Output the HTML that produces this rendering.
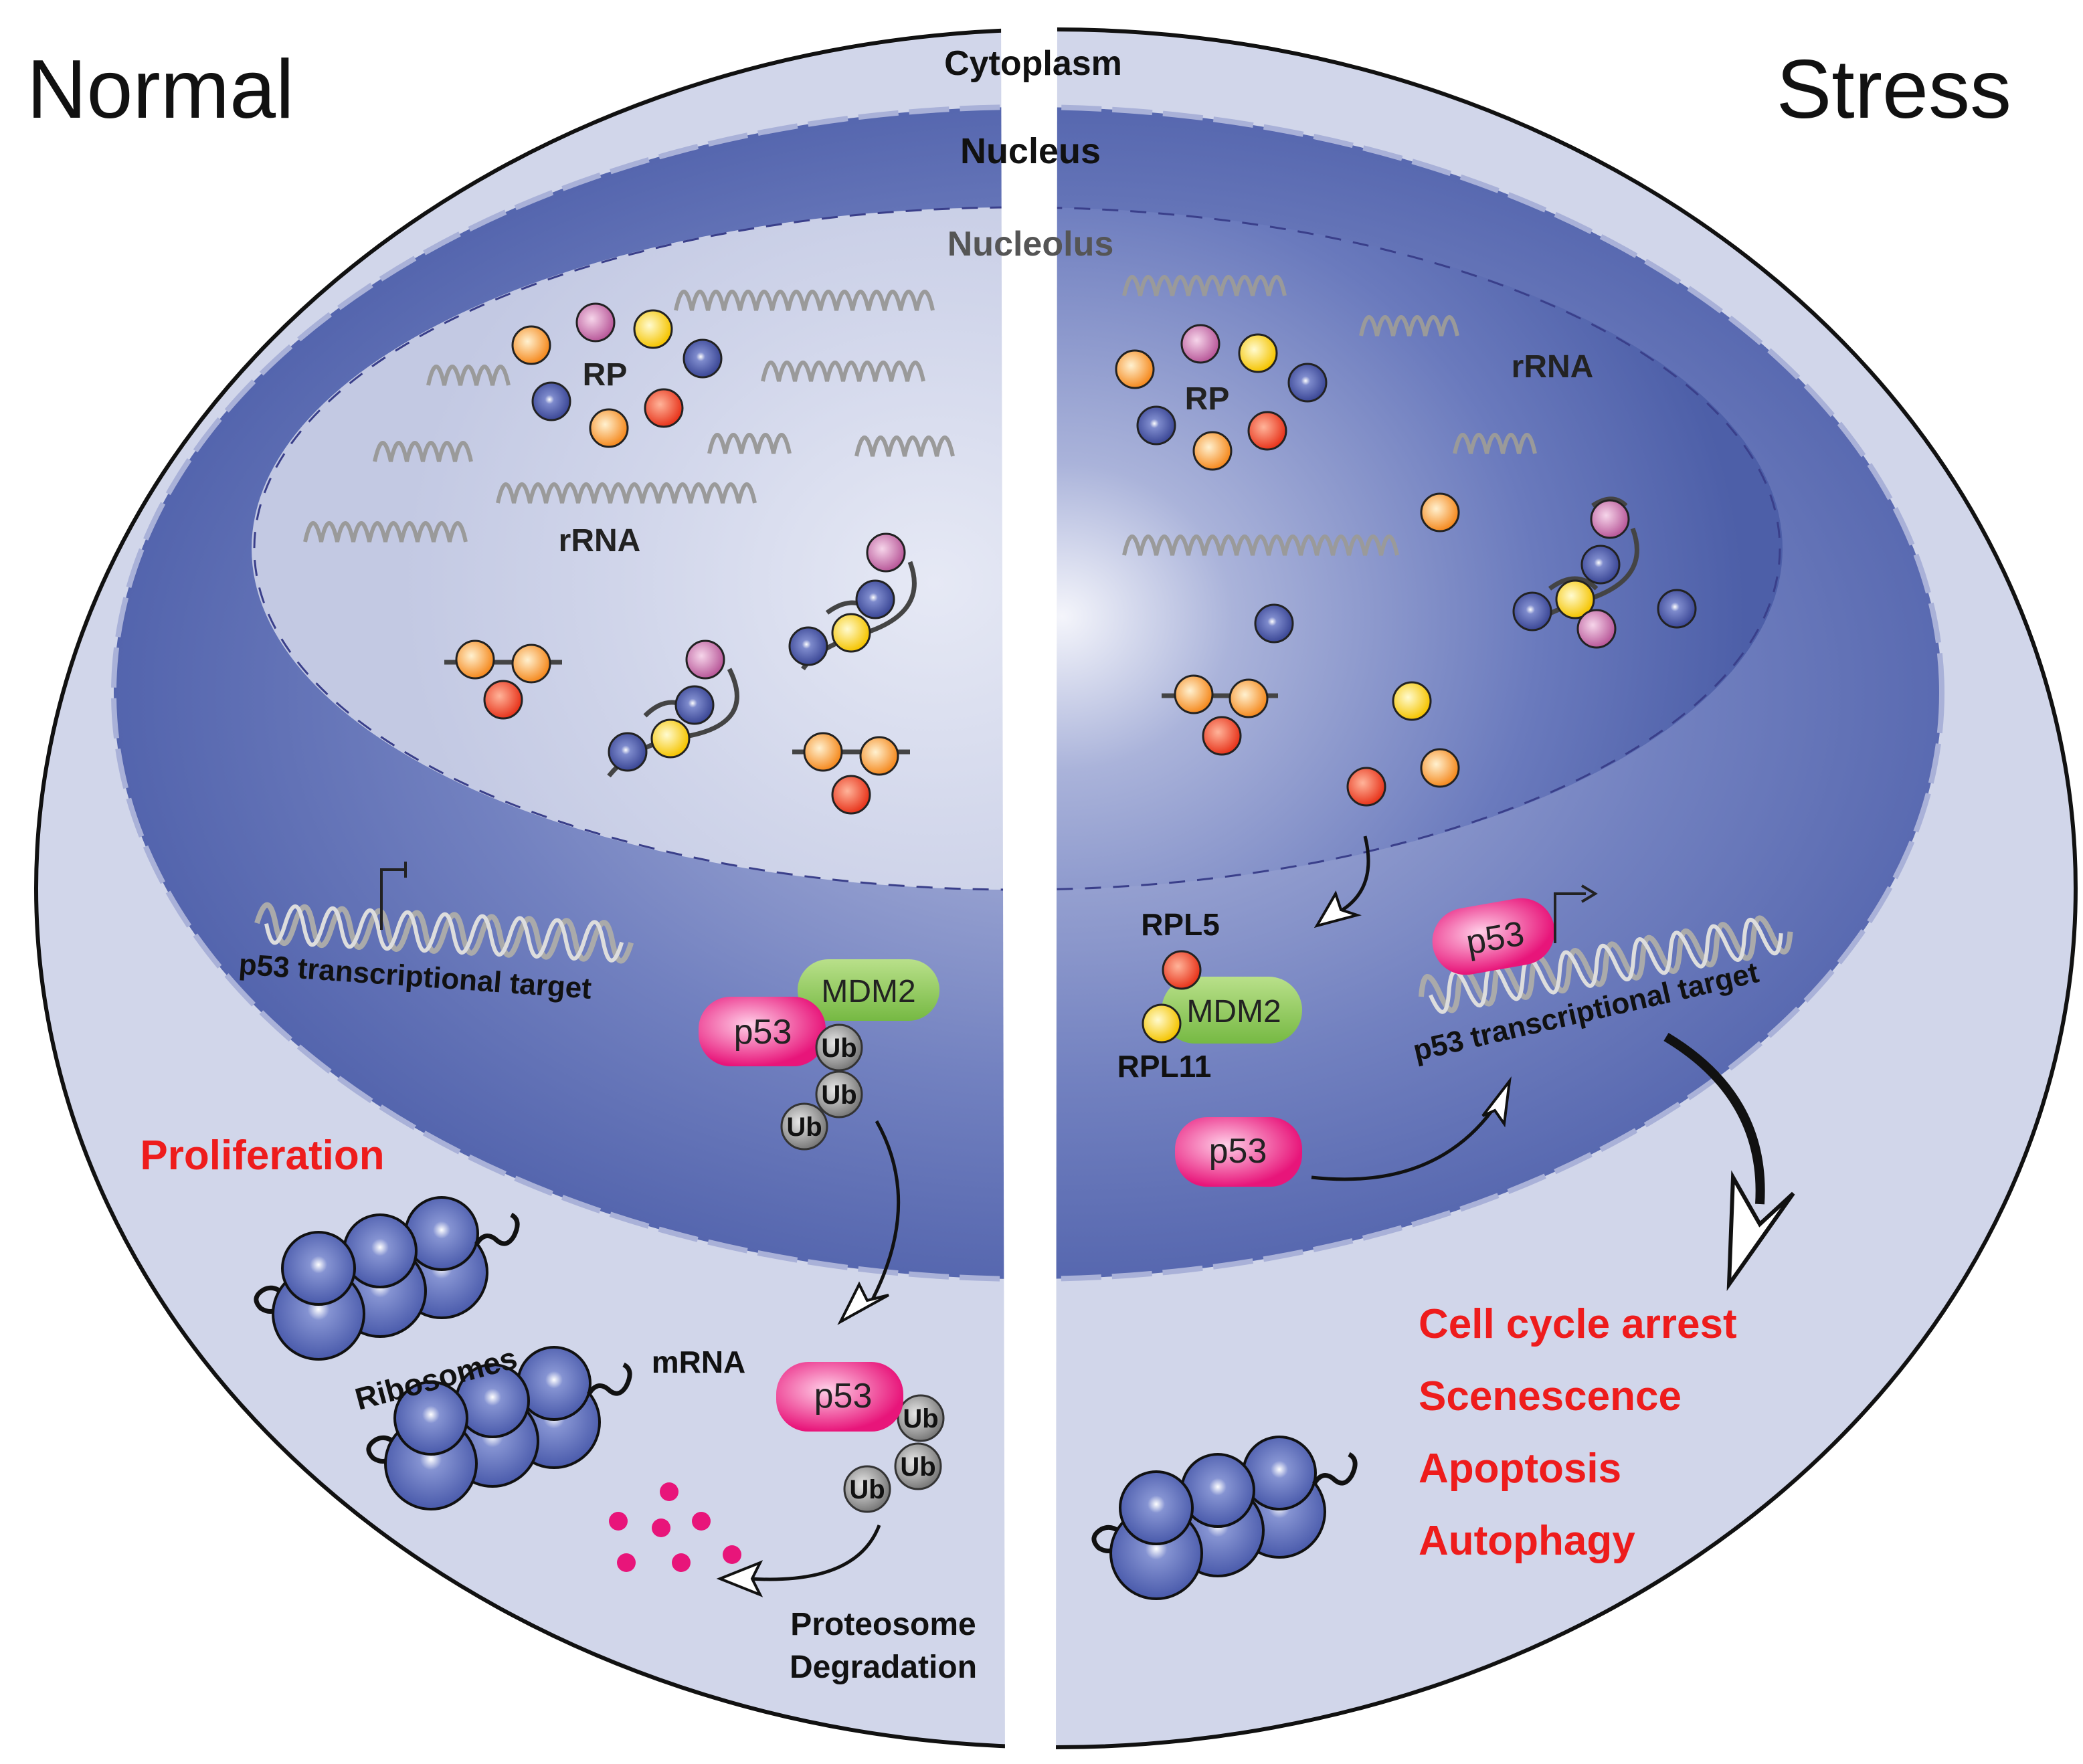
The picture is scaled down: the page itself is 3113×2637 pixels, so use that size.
<!DOCTYPE html>
<html><head><meta charset="utf-8"><style>
html,body{margin:0;padding:0;background:#fff}
svg{display:block}
text{font-family:"Liberation Sans",Arial,sans-serif}
</style></head><body>
<svg width="3113" height="2637" viewBox="0 0 1556.5 1318.5" preserveAspectRatio="none" xmlns="http://www.w3.org/2000/svg">
<defs>
<radialGradient id="nuc" cx="0.52" cy="0.5" r="0.6">
<stop offset="0" stop-color="#b8bfe0"/><stop offset="0.55" stop-color="#7281c0"/><stop offset="1" stop-color="#4658a5"/></radialGradient>
<radialGradient id="nol" cx="0.9" cy="0.55" r="0.7">
<stop offset="0" stop-color="#e6e9f5"/><stop offset="0.6" stop-color="#d0d5ea"/><stop offset="1" stop-color="#c3c9e3"/></radialGradient>
<radialGradient id="nolR" cx="0.05" cy="0.6" r="0.9">
<stop offset="0" stop-color="#f4f5fb"/><stop offset="0.25" stop-color="#aab3da"/><stop offset="0.7" stop-color="#6a7abd"/><stop offset="1" stop-color="#4d5fa8"/></radialGradient>
<radialGradient id="gO" cx="0.4" cy="0.4" r="0.6"><stop offset="0" stop-color="#fff1d0"/><stop offset="1" stop-color="#f58a1f"/></radialGradient>
<radialGradient id="gP" cx="0.4" cy="0.4" r="0.6"><stop offset="0" stop-color="#f6d5ea"/><stop offset="1" stop-color="#b9599a"/></radialGradient>
<radialGradient id="gY" cx="0.4" cy="0.4" r="0.6"><stop offset="0" stop-color="#fffbd0"/><stop offset="1" stop-color="#f5c400"/></radialGradient>
<radialGradient id="gB" cx="0.45" cy="0.45" r="0.6"><stop offset="0" stop-color="#ffffff"/><stop offset="0.2" stop-color="#7d8acc"/><stop offset="1" stop-color="#333f8f"/></radialGradient>
<radialGradient id="gR" cx="0.4" cy="0.4" r="0.6"><stop offset="0" stop-color="#ffb49a"/><stop offset="1" stop-color="#e8351c"/></radialGradient>
<radialGradient id="gU" cx="0.4" cy="0.4" r="0.6"><stop offset="0" stop-color="#e8e8e8"/><stop offset="1" stop-color="#7a7a7a"/></radialGradient>
<radialGradient id="gK" cx="0.5" cy="0.45" r="0.6"><stop offset="0" stop-color="#ffffff"/><stop offset="0.2" stop-color="#8593d2"/><stop offset="1" stop-color="#4253a6"/></radialGradient>
<radialGradient id="gM" cx="0.4" cy="0.4" r="0.6"><stop offset="0" stop-color="#ffd0e8"/><stop offset="1" stop-color="#e8157a"/></radialGradient>
<linearGradient id="gG" x1="0" y1="0" x2="0" y2="1"><stop offset="0" stop-color="#b9e08a"/><stop offset="1" stop-color="#76b943"/></linearGradient>
<g id="ribo">
<path d="M-25 -14 q-8 -8 -16 -4 q-10 6 -2 14 q10 6 16 -4 q6 -8 14 -2" fill="none" stroke="#111" stroke-width="3.5"/>
<circle cx="92" cy="-31" r="34" fill="url(#gK)" stroke="#111" stroke-width="2"/>
<circle cx="46" cy="-17" r="34" fill="url(#gK)" stroke="#111" stroke-width="2"/>
<circle cx="0" cy="0" r="34" fill="url(#gK)" stroke="#111" stroke-width="2"/>
<circle cx="92" cy="-60" r="27" fill="url(#gK)" stroke="#111" stroke-width="2"/>
<circle cx="46" cy="-47" r="27" fill="url(#gK)" stroke="#111" stroke-width="2"/>
<circle cx="0" cy="-34" r="27" fill="url(#gK)" stroke="#111" stroke-width="2"/>
<path d="M118 -52 q6 -10 14 -4 q8 8 14 -2 q6 -12 -2 -16" fill="none" stroke="#111" stroke-width="3.5"/>
</g>
<g id="helix">
<path d="M0 0 q7 -28 14 0 q7 28 14 0 q7 -28 14 0 q7 28 14 0 q7 -28 14 0 q7 28 14 0 q7 -28 14 0 q7 28 14 0 q7 -28 14 0 q7 28 14 0 q7 -28 14 0 q7 28 14 0 q7 -28 14 0 q7 28 14 0 q7 -28 14 0 q7 28 14 0 q7 -28 14 0 q7 28 14 0 q7 -28 14 0 q7 28 14 0" fill="none" stroke="#aaa" stroke-width="4"/>
<path d="M7 0 q7 28 14 0 q7 -28 14 0 q7 28 14 0 q7 -28 14 0 q7 28 14 0 q7 -28 14 0 q7 28 14 0 q7 -28 14 0 q7 28 14 0 q7 -28 14 0 q7 28 14 0 q7 -28 14 0 q7 28 14 0 q7 -28 14 0 q7 28 14 0 q7 -28 14 0 q7 28 14 0 q7 -28 14 0 q7 28 14 0" fill="none" stroke="#ddd" stroke-width="3"/>
</g>
</defs>
<rect width="1556.5" height="1318.5" fill="#fff"/>
<ellipse cx="789" cy="664" rx="762" ry="642" fill="#d1d6ea" stroke="#111" stroke-width="3"/>
<ellipse cx="768" cy="518" rx="683" ry="438" fill="url(#nuc)"/>
<ellipse cx="768" cy="518" rx="683" ry="438" fill="none" stroke="#a9b1d8" stroke-width="4" stroke-dasharray="30 8"/>
<path d="M755 155 A567 255 0 0 0 755 665 Z" fill="url(#nol)"/>
<path d="M765 155 A567 255 0 0 1 765 665 Z" fill="url(#nolR)"/>
<ellipse cx="760" cy="410" rx="570" ry="255" fill="none" stroke="#3a3f8a" stroke-width="1.5" stroke-dasharray="12 9"/>
<g fill="none" stroke="#9a9a9a" stroke-width="3">
<path d="M505 232 q6 -28 12 0 q6 -28 12 0 q6 -28 12 0 q6 -28 12 0 q6 -28 12 0 q6 -28 12 0 q6 -28 12 0 q6 -28 12 0 q6 -28 12 0 q6 -28 12 0 q6 -28 12 0 q6 -28 12 0 q6 -28 12 0 q6 -28 12 0 q6 -28 12 0 q6 -28 12 0"/>
<path d="M320 288 q6 -28 12 0 q6 -28 12 0 q6 -28 12 0 q6 -28 12 0 q6 -28 12 0"/>
<path d="M570 285 q6 -28 12 0 q6 -28 12 0 q6 -28 12 0 q6 -28 12 0 q6 -28 12 0 q6 -28 12 0 q6 -28 12 0 q6 -28 12 0 q6 -28 12 0 q6 -28 12 0"/>
<path d="M280 345 q6 -28 12 0 q6 -28 12 0 q6 -28 12 0 q6 -28 12 0 q6 -28 12 0 q6 -28 12 0"/>
<path d="M530 339 q6 -28 12 0 q6 -28 12 0 q6 -28 12 0 q6 -28 12 0 q6 -28 12 0"/>
<path d="M640 341 q6 -28 12 0 q6 -28 12 0 q6 -28 12 0 q6 -28 12 0 q6 -28 12 0 q6 -28 12 0"/>
<path d="M372 376 q6 -28 12 0 q6 -28 12 0 q6 -28 12 0 q6 -28 12 0 q6 -28 12 0 q6 -28 12 0 q6 -28 12 0 q6 -28 12 0 q6 -28 12 0 q6 -28 12 0 q6 -28 12 0 q6 -28 12 0 q6 -28 12 0 q6 -28 12 0 q6 -28 12 0 q6 -28 12 0"/>
<path d="M228 405 q6 -28 12 0 q6 -28 12 0 q6 -28 12 0 q6 -28 12 0 q6 -28 12 0 q6 -28 12 0 q6 -28 12 0 q6 -28 12 0 q6 -28 12 0 q6 -28 12 0"/>
<path d="M840 221 q6 -28 12 0 q6 -28 12 0 q6 -28 12 0 q6 -28 12 0 q6 -28 12 0 q6 -28 12 0 q6 -28 12 0 q6 -28 12 0 q6 -28 12 0 q6 -28 12 0"/>
<path d="M1017 251 q6 -28 12 0 q6 -28 12 0 q6 -28 12 0 q6 -28 12 0 q6 -28 12 0 q6 -28 12 0"/>
<path d="M1087 339 q6 -28 12 0 q6 -28 12 0 q6 -28 12 0 q6 -28 12 0 q6 -28 12 0"/>
<path d="M840 415 q6 -28 12 0 q6 -28 12 0 q6 -28 12 0 q6 -28 12 0 q6 -28 12 0 q6 -28 12 0 q6 -28 12 0 q6 -28 12 0 q6 -28 12 0 q6 -28 12 0 q6 -28 12 0 q6 -28 12 0 q6 -28 12 0 q6 -28 12 0 q6 -28 12 0 q6 -28 12 0 q6 -28 12 0"/>
</g>
<g fill="none" stroke="#444" stroke-width="3.5">
<path d="M332 495 L420 495"/>
<path d="M545 500 q20 40 -30 50 q-40 5 -60 30"/>
<path d="M482 535 q20 -20 40 0"/>
<path d="M680 420 q15 40 -40 55 q-30 10 -40 25"/>
<path d="M618 458 q20 -15 35 0"/>
<path d="M592 562 L680 562"/>
<path d="M868 520 L955 520"/>
<path d="M1220 395 q15 40 -40 55 q-30 10 -40 20"/>
<path d="M1158 440 q20 -15 35 0"/>
<path d="M1215 378 q-10 -10 -25 0"/>
</g>
<g stroke="#222" stroke-width="1.5">
<circle cx="397" cy="258" r="14" fill="url(#gO)"/><circle cx="445" cy="241" r="14" fill="url(#gP)"/><circle cx="488" cy="246" r="14" fill="url(#gY)"/><circle cx="525" cy="268" r="14" fill="url(#gB)"/><circle cx="412" cy="300" r="14" fill="url(#gB)"/><circle cx="455" cy="320" r="14" fill="url(#gO)"/><circle cx="496" cy="305" r="14" fill="url(#gR)"/>
<circle cx="848" cy="276" r="14" fill="url(#gO)"/><circle cx="897" cy="257" r="14" fill="url(#gP)"/><circle cx="940" cy="264" r="14" fill="url(#gY)"/><circle cx="977" cy="286" r="14" fill="url(#gB)"/><circle cx="864" cy="318" r="14" fill="url(#gB)"/><circle cx="906" cy="337" r="14" fill="url(#gO)"/><circle cx="947" cy="322" r="14" fill="url(#gR)"/>
<circle cx="355" cy="493" r="14" fill="url(#gO)"/><circle cx="397" cy="496" r="14" fill="url(#gO)"/><circle cx="376" cy="523" r="14" fill="url(#gR)"/>
<circle cx="527" cy="493" r="14" fill="url(#gP)"/><circle cx="519" cy="527" r="14" fill="url(#gB)"/><circle cx="501" cy="552" r="14" fill="url(#gY)"/><circle cx="469" cy="562" r="14" fill="url(#gB)"/>
<circle cx="662" cy="413" r="14" fill="url(#gP)"/><circle cx="654" cy="448" r="14" fill="url(#gB)"/><circle cx="636" cy="473" r="14" fill="url(#gY)"/><circle cx="604" cy="483" r="14" fill="url(#gB)"/>
<circle cx="615" cy="562" r="14" fill="url(#gO)"/><circle cx="657" cy="565" r="14" fill="url(#gO)"/><circle cx="636" cy="594" r="14" fill="url(#gR)"/>
<circle cx="1203" cy="388" r="14" fill="url(#gP)"/><circle cx="1196" cy="422" r="14" fill="url(#gB)"/><circle cx="1177" cy="448" r="14" fill="url(#gY)"/><circle cx="1145" cy="457" r="14" fill="url(#gB)"/><circle cx="1193" cy="470" r="14" fill="url(#gP)"/><circle cx="1253" cy="455" r="14" fill="url(#gB)"/>
<circle cx="1076" cy="383" r="14" fill="url(#gO)"/><circle cx="952" cy="466" r="14" fill="url(#gB)"/>
<circle cx="892" cy="519" r="14" fill="url(#gO)"/><circle cx="933" cy="522" r="14" fill="url(#gO)"/><circle cx="913" cy="550" r="14" fill="url(#gR)"/>
<circle cx="1055" cy="524" r="14" fill="url(#gY)"/><circle cx="1076" cy="574" r="14" fill="url(#gO)"/><circle cx="1021" cy="588" r="14" fill="url(#gR)"/>
</g>
<g font-weight="bold" font-size="24" fill="#222" text-anchor="middle">
<text x="452" y="288">RP</text><text x="902" y="306">RP</text>
<text x="448" y="412">rRNA</text><text x="1160" y="282">rRNA</text>
</g>
<g transform="translate(192,690) rotate(3)"><use href="#helix"/></g>
<path d="M285 695 V650 H303" fill="none" stroke="#222" stroke-width="2"/><path d="M303 644 V656" stroke="#222" stroke-width="2"/>
<text x="178" y="728" font-size="22" font-weight="bold" fill="#111" transform="rotate(4 178 728)">p53 transcriptional target</text>
<g transform="translate(1062,745) rotate(-10)"><use href="#helix"/></g>
<text x="1058" y="793" font-size="22" font-weight="bold" fill="#111" transform="rotate(-13 1058 793)">p53 transcriptional target</text>
<rect x="1070" y="675" width="92" height="50" rx="25" fill="url(#gM)" transform="rotate(-10 1116 700)"/>
<text x="1117" y="710" font-size="26" text-anchor="middle" fill="#222" transform="rotate(-10 1116 700)">p53</text>
<path d="M1162 705 V668 H1185" fill="none" stroke="#222" stroke-width="2"/><path d="M1182 662 L1192 668 L1182 674" fill="none" stroke="#222" stroke-width="2"/>
<rect x="596" y="717" width="106" height="46" rx="23" fill="url(#gG)"/>
<text x="649" y="749" font-size="24" text-anchor="middle" fill="#222">MDM2</text>
<rect x="522" y="745" width="95" height="52" rx="24" fill="url(#gM)"/>
<text x="570" y="780" font-size="26" text-anchor="middle" fill="#222">p53</text>
<g stroke="#333" stroke-width="1.5"><circle cx="627" cy="783" r="17" fill="url(#gU)"/><circle cx="627" cy="818" r="17" fill="url(#gU)"/><circle cx="601" cy="842" r="17" fill="url(#gU)"/>
<circle cx="688" cy="1060" r="17" fill="url(#gU)"/><circle cx="686" cy="1096" r="17" fill="url(#gU)"/><circle cx="648" cy="1113" r="17" fill="url(#gU)"/></g>
<g font-size="20" font-weight="bold" text-anchor="middle" fill="#111"><text x="627" y="790">Ub</text><text x="627" y="825">Ub</text><text x="601" y="849">Ub</text>
<text x="688" y="1067">Ub</text><text x="686" y="1103">Ub</text><text x="648" y="1120">Ub</text></g>
<rect x="580" y="1018" width="95" height="52" rx="24" fill="url(#gM)"/>
<text x="630" y="1052" font-size="26" text-anchor="middle" fill="#222">p53</text>
<path d="M655 838 Q690 900 650 975" fill="none" stroke="#111" stroke-width="2.5"/>
<path d="M628 988 L642 960 L648 972 L664 968 Z" fill="#fff" stroke="#111" stroke-width="2"/>
<path d="M657 1140 Q640 1185 560 1180" fill="none" stroke="#111" stroke-width="2.5"/>
<path d="M538 1180 L568 1168 L562 1180 L568 1192 Z" fill="#fff" stroke="#111" stroke-width="2"/>
<g fill="#e8157a"><circle cx="500" cy="1115" r="7"/><circle cx="462" cy="1137" r="7"/><circle cx="494" cy="1142" r="7"/><circle cx="524" cy="1137" r="7"/><circle cx="468" cy="1168" r="7"/><circle cx="509" cy="1168" r="7"/><circle cx="547" cy="1162" r="7"/></g>
<g font-size="24" font-weight="bold" text-anchor="middle" fill="#111"><text x="660" y="1222">Proteosome</text><text x="660" y="1254">Degradation</text></g>
<text x="196" y="874" font-size="31" font-weight="bold" fill="#ee1c1c" text-anchor="middle">Proliferation</text>
<use href="#ribo" transform="translate(238,982)"/>
<use href="#ribo" transform="translate(322,1094)"/>
<use href="#ribo" transform="translate(864,1161)"/>
<text x="268" y="1054" font-size="23" font-weight="bold" fill="#111" transform="rotate(-15 268 1054)">Ribosomes</text>
<text x="522" y="1026" font-size="23" font-weight="bold" fill="#111" text-anchor="middle">mRNA</text>
<rect x="868" y="730" width="105" height="50" rx="25" fill="url(#gG)"/>
<text x="922" y="764" font-size="24" text-anchor="middle" fill="#222">MDM2</text>
<g stroke="#222" stroke-width="1.5"><circle cx="883" cy="725" r="14" fill="url(#gR)"/><circle cx="868" cy="765" r="14" fill="url(#gY)"/></g>
<g font-size="23" font-weight="bold" fill="#111" text-anchor="middle"><text x="882" y="699">RPL5</text><text x="870" y="805">RPL11</text></g>
<path d="M1020 625 Q1030 665 1000 682" fill="none" stroke="#111" stroke-width="2.5"/>
<path d="M984 692 L998 668 L1002 680 L1014 684 Z" fill="#fff" stroke="#111" stroke-width="2"/>
<rect x="878" y="835" width="95" height="52" rx="24" fill="url(#gM)"/>
<text x="925" y="869" font-size="26" text-anchor="middle" fill="#222">p53</text>
<path d="M980 880 Q1070 890 1115 830" fill="none" stroke="#111" stroke-width="2.5"/>
<path d="M1128 808 L1124 840 L1117 830 L1108 834 Z" fill="#fff" stroke="#111" stroke-width="2"/>
<path d="M1245 775 Q1320 820 1315 900" fill="none" stroke="#111" stroke-width="7"/>
<path d="M1292 960 L1295 880 L1315 915 L1340 892 Z" fill="#fff" stroke="#111" stroke-width="3"/>
<path d="M1318 925 L1340 892 L1296 958 Z" fill="#111"/>
<g font-size="31" font-weight="bold" fill="#ee1c1c"><text x="1060" y="1000">Cell cycle arrest</text><text x="1060" y="1054">Scenescence</text><text x="1060" y="1108">Apoptosis</text><text x="1060" y="1162">Autophagy</text></g>
<path d="M748 0 L790 0 L789 1318.5 L751 1318.5 Z" fill="#fff"/>
<g font-weight="bold" text-anchor="middle" fill="#111">
<text x="772" y="56" font-size="26">Cytoplasm</text>
<text x="770" y="122" font-size="27">Nucleus</text>
<text x="770" y="191" font-size="26" fill="#555">Nucleolus</text>
</g>
<text x="20" y="88" font-size="62" fill="#111">Normal</text>
<text x="1503" y="88" font-size="62" fill="#111" text-anchor="end">Stress</text>
</svg>
</body></html>
